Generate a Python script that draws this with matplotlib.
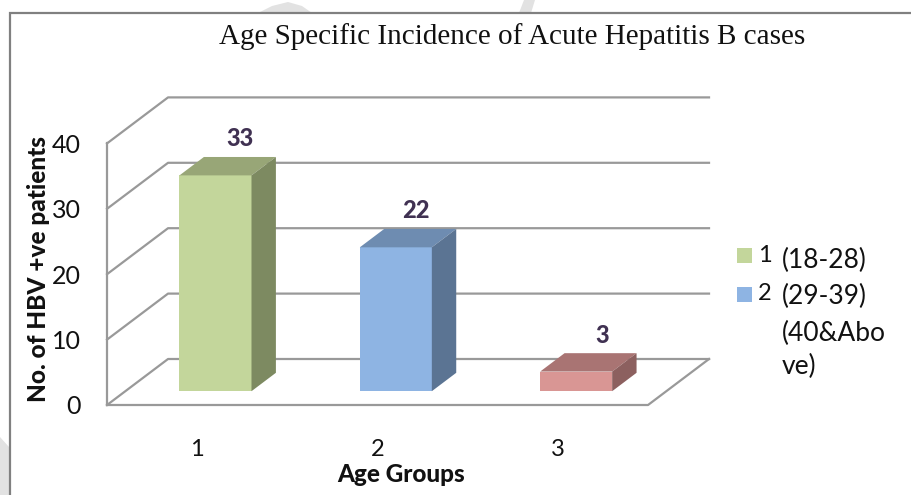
import matplotlib
matplotlib.use('Agg')
import matplotlib.pyplot as plt
from matplotlib.patches import Polygon

W, H = 911, 495
BODY = ['Lato', 'DejaVu Sans']

# data
categories = [1, 2, 3]
values = [33, 22, 3]
y_ticks = [0, 10, 20, 30, 40]
legend_labels = ['(18-28)', '(29-39)', '(40&Abo\nve)']
front_colors = ['#c3d69b', '#8eb4e3', '#d99694']
top_colors = ['#98a677', '#6e8cb1', '#a97473']
side_colors = ['#7d8a61', '#5b7493', '#8c605f']
title = 'Age Specific Incidence of Acute Hepatitis B cases'

# scales: one category = 180.33 px, one patient = 6.54 px
px_cat, px_val = 180.33, 6.54
x0_px, y0_px = 197.2, 405.0
depth_dx, depth_dy = 61 / px_cat, 46 / px_val
bar_w = 72 / px_cat
d_front, d_back = 0.30, 0.70
grid = '#999999'
label_nudge = [43, 38, 44]


def X(px):
    return 1 + (px - x0_px) / px_cat


def Y(py):
    return (y0_px - py) / px_val


fig = plt.figure(figsize=(W / 100, H / 100), dpi=100)
ax = fig.add_axes([0, 0, 1, 1])
ax.set_xlim(X(0), X(W))
ax.set_ylim(Y(H), Y(0))
ax.axis('off')

# watermark shapes behind the chart
wm = '#e2e2e2'
ax.add_patch(Polygon([(X(258), Y(13)), (X(272), Y(6)), (X(288), Y(2)), (X(302), Y(6)), (X(312), Y(13))],
                     fc=wm, ec='none', zorder=0))
ax.add_patch(Polygon([(X(519), Y(13)), (X(524), Y(0)), (X(535), Y(0)), (X(531), Y(13))], fc=wm, ec='none', zorder=0))
ax.add_patch(Polygon([(X(0), Y(437)), (X(9), Y(447)), (X(9), Y(495)), (X(0), Y(495))], fc=wm, ec='none', zorder=0))

# outer frame, only top and left show
ax.plot([X(10), X(10), X(W)], [Y(H), Y(13), Y(13)], color='#808080', lw=1.6, zorder=1, solid_joinstyle='miter')

# walls and gridlines
xl, xr = 0.5, 3.5
for t in y_ticks:
    ax.plot([xl, xl + depth_dx, xr + depth_dx], [t, t + depth_dy, t + depth_dy], color=grid, lw=1.6, zorder=2)
    ax.text(X(81), t - 2 / px_val, str(t), family=BODY, fontsize=18, color='#111111', ha='right', va='center', zorder=6)
ax.plot([xl, xl], [0, y_ticks[-1]], color=grid, lw=1.6, zorder=2)
ax.plot([xl, xr, xr + depth_dx], [0, 0, depth_dy], color=grid, lw=1.6, zorder=2)

# bars
for c, v, fc, tc, sc, nudge in zip(categories, values, front_colors, top_colors, side_colors, label_nudge):
    xa = c - bar_w / 2 + d_front * depth_dx
    xb = xa + bar_w
    ya = d_front * depth_dy
    ox = (d_back - d_front) * depth_dx
    oy = (d_back - d_front) * depth_dy
    ax.add_patch(Polygon([(xa, ya), (xb, ya), (xb, ya + v), (xa, ya + v)], fc=fc, ec='none', zorder=3))
    ax.add_patch(Polygon([(xa, ya + v), (xb, ya + v), (xb + ox, ya + v + oy), (xa + ox, ya + v + oy)],
                         fc=tc, ec='none', zorder=3))
    ax.add_patch(Polygon([(xb, ya), (xb + ox, ya + oy), (xb + ox, ya + v + oy), (xb, ya + v)],
                         fc=sc, ec='none', zorder=3))
    ax.text(c + nudge / px_cat, v + ya + oy + 18 / px_val, str(v), family=BODY, fontsize=17, fontweight=900,
            color='#403152', ha='center', va='center', zorder=6)
    ax.text(c, Y(449), str(c), family=BODY, fontsize=17, color='#111111', ha='center', va='center')

# text
ax.text(X(512), Y(37), title, family='Liberation Serif', fontsize=21, color='#111111', ha='center', va='center')
ax.text(X(401), Y(474), 'Age Groups', family=BODY, fontsize=17.5, fontweight=900, color='#111111',
        ha='center', va='center')
ax.text(X(39), Y(269), 'No. of HBV +ve patients', family=BODY, fontsize=17.6, fontweight=900, color='#111111',
        rotation=90, ha='center', va='center')

# legend
for i, col in enumerate(front_colors[:2]):
    top = 248 + i * 39
    ax.add_patch(Polygon([(X(737), Y(top)), (X(752), Y(top)), (X(752), Y(top + 15)), (X(737), Y(top + 15))],
                         fc=col, ec='none', zorder=3))
    ax.text(X(765), Y(top + 7), str(categories[i]), family=BODY, fontsize=17, color='#111111', ha='center', va='center')
ax.text(X(782), Y(260), legend_labels[0], family=BODY, fontsize=19, color='#111111', ha='left', va='center')
ax.text(X(782), Y(296), legend_labels[1], family=BODY, fontsize=19, color='#111111', ha='left', va='center')
ax.text(X(782), Y(350), legend_labels[2], family=BODY, fontsize=19, color='#111111', ha='left', va='center',
        linespacing=1.42)

fig.savefig('out.png', dpi=100)
